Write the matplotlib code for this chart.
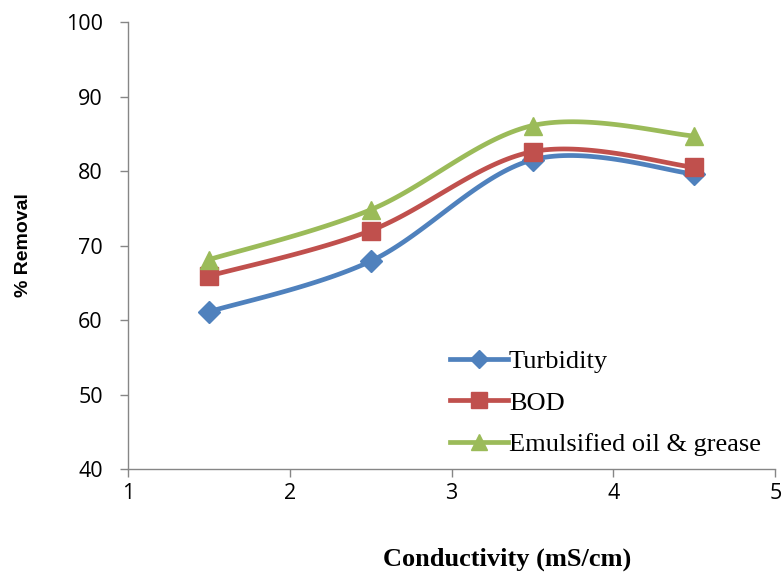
import numpy as np
import matplotlib
matplotlib.use("Agg")
import matplotlib.pyplot as plt
from matplotlib.lines import Line2D

# ── Data ──────────────────────────────────────────────────────────────────────
conductivity = [1.5, 2.5, 3.5, 4.5]
turbidity    = [61.1, 67.9, 81.5, 79.6]
bod          = [65.9, 72.0, 82.6, 80.5]
oil_grease   = [68.1, 74.8, 86.1, 84.7]

series = [
    ("Turbidity",                turbidity,  "#4F81BD", "D", 11),
    ("BOD",                      bod,        "#C0504D", "s", 13),
    ("Emulsified oil & grease",  oil_grease, "#9BBB59", "^", 13.5),
]

# ── Excel-style smoothed line (cubic Bezier through the points) ──────────────
def smooth(xs, ys, n=40):
    p = np.column_stack([xs, ys]).astype(float)
    ext = np.vstack([p[0], p, p[-1]])
    out = []
    for i in range(len(p) - 1):
        p0, p1 = ext[i + 1], ext[i + 2]
        c1 = p0 + (ext[i + 2] - ext[i]) / 6
        c2 = p1 - (ext[i + 3] - ext[i + 1]) / 6
        t = np.linspace(0, 1, n)[:, None]
        seg = ((1 - t) ** 3) * p0 + 3 * ((1 - t) ** 2) * t * c1 \
            + 3 * (1 - t) * t ** 2 * c2 + t ** 3 * p1
        out.append(seg)
    seg = np.vstack(out)
    return seg[:, 0], seg[:, 1]

# ── Plot ──────────────────────────────────────────────────────────────────────
fig = plt.figure(figsize=(7.84, 5.72), dpi=100)
ax = fig.add_axes([0.163, 0.18, 0.826, 0.7815])

handles = []
for name, vals, color, marker, ms in series:
    sx, sy = smooth(conductivity, vals)
    ax.plot(sx, sy, color=color, linewidth=3.4, solid_capstyle="round")
    ax.plot(conductivity, vals, linestyle="none", marker=marker,
            markersize=ms, color=color)
    handles.append(Line2D([], [], color=color, linewidth=3.4,
                          marker=marker, markersize=ms * 0.85, label=name))

ax.set_xlim(1, 5)
ax.set_ylim(40, 100)
ax.set_xticks([1, 2, 3, 4, 5])
ax.set_yticks(range(40, 101, 10))

for side in ["top", "right"]:
    ax.spines[side].set_visible(False)
for side in ["left", "bottom"]:
    ax.spines[side].set_color("#868686")
    ax.spines[side].set_linewidth(1.0)

ax.tick_params(axis="both", colors="#868686", length=6, width=1,
               labelcolor="black", labelsize=15.5, direction="out")
for lbl in ax.get_xticklabels() + ax.get_yticklabels():
    lbl.set_family("Open Sans")
ax.tick_params(axis="x", pad=4)
ax.tick_params(axis="y", pad=12)

ax.set_xlabel("Conductivity (mS/cm)", family="Liberation Serif",
              fontweight="bold", fontsize=19)
ax.xaxis.set_label_coords(0.585, -0.175)
ax.set_ylabel("% Removal", family="Liberation Sans",
              fontweight="bold", fontsize=14)
ax.yaxis.set_label_coords(-0.148, 0.5)

ax.legend(handles=handles, loc="center left", bbox_to_anchor=(0.497, 0.148),
          frameon=False, prop={"family": "Liberation Serif", "size": 19},
          handlelength=2.2, handletextpad=0.05, labelspacing=0.68,
          borderaxespad=0, borderpad=0)

plt.savefig("out.png", dpi=100)
